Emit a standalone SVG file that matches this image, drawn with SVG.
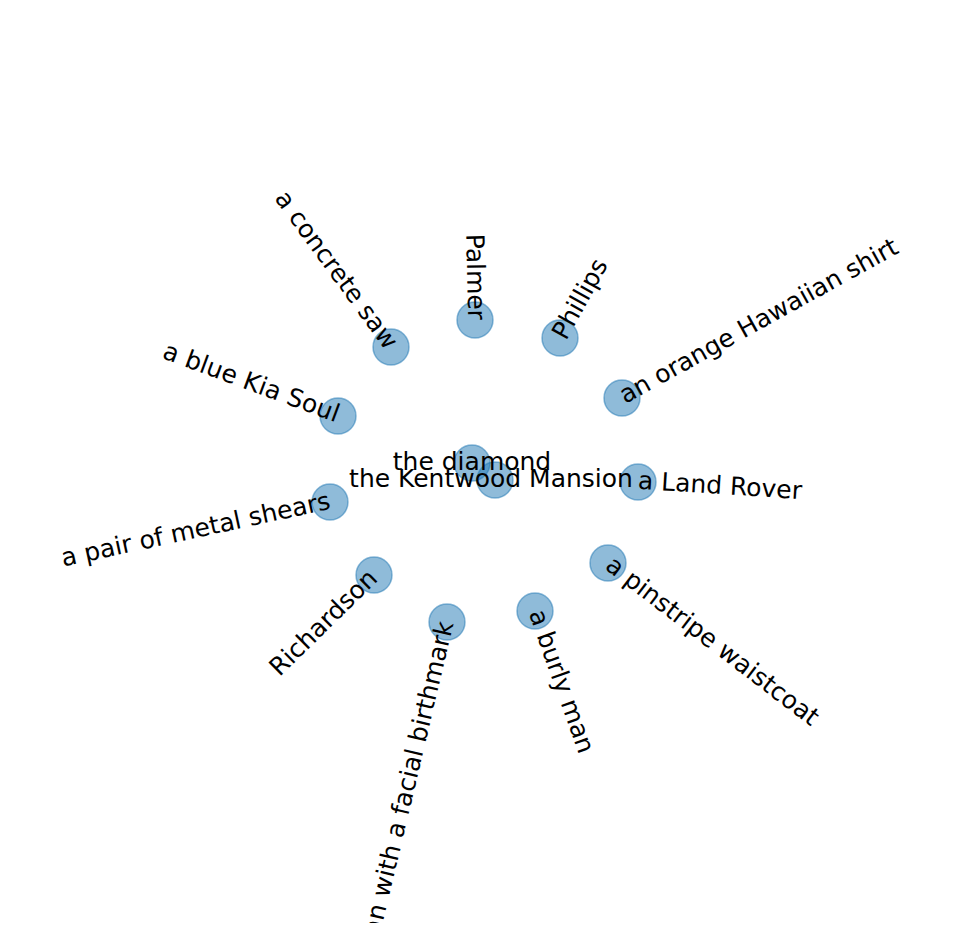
<svg xmlns="http://www.w3.org/2000/svg" width="967" height="942" viewBox="0 0 967 942">
<style>
.n{fill:#1f77b4;fill-opacity:.5;stroke:#1f77b4;stroke-opacity:.5;stroke-width:1.5}
.t{font-family:"DejaVu Sans",sans-serif;font-size:25px;fill:#000}
.s{text-anchor:start}.e{text-anchor:end}.m{text-anchor:middle}
</style>
<defs><clipPath id="fig"><rect x="0" y="0" width="967" height="923"/></clipPath></defs>
<rect width="967" height="942" fill="#fff"/>
<g id="edges"/>
<g id="n-concrete-saw"><circle class="n" cx="391" cy="347" r="18"/></g>
<g id="n-palmer"><circle class="n" cx="475" cy="320" r="18"/></g>
<g id="n-phillips"><circle class="n" cx="560" cy="338" r="18"/></g>
<g id="n-hawaiian-shirt"><circle class="n" cx="622" cy="398" r="18"/></g>
<g id="n-kia-soul"><circle class="n" cx="338" cy="416" r="18"/></g>
<g id="n-diamond"><circle class="n" cx="472" cy="463" r="18"/></g>
<g id="n-kentwood"><circle class="n" cx="495" cy="480" r="18"/></g>
<g id="n-land-rover"><circle class="n" cx="638" cy="482" r="18"/></g>
<g id="n-metal-shears"><circle class="n" cx="330" cy="502" r="18"/></g>
<g id="n-richardson"><circle class="n" cx="374" cy="575" r="18"/></g>
<g id="n-birthmark"><circle class="n" cx="447" cy="622" r="18"/></g>
<g id="n-burly-man"><circle class="n" cx="535" cy="611" r="18"/></g>
<g id="n-waistcoat"><circle class="n" cx="608" cy="563" r="18"/></g>
<g id="labels" class="t" clip-path="url(#fig)">
<text class="e" dy="0.27em" transform="translate(391,347) rotate(53.8)">a concrete saw</text>
<text class="e" dy="0.27em" transform="translate(475,320) rotate(88.7)">Palmer</text>
<text class="s" dy="0.27em" transform="translate(560,338) rotate(-61)">Phillips</text>
<text class="s" dy="0.27em" transform="translate(622,398) rotate(-28.9)">an orange Hawaiian shirt</text>
<text class="e" dy="0.27em" transform="translate(338,416) rotate(20.3)">a blue Kia Soul</text>
<text class="m" dy="0.27em" transform="translate(472,463)">the diamond</text>
<text class="m" dy="0.27em" transform="translate(491,480)">the Kentwood Mansion</text>
<text class="s" dy="0.27em" transform="translate(638,482) rotate(3.6)">a Land Rover</text>
<text class="e" dy="0.27em" transform="translate(330,502) rotate(-12.2)">a pair of metal shears</text>
<text class="e" dy="0.27em" transform="translate(374,575) rotate(-44.5)">Richardson</text>
<text class="e" dy="0.27em" transform="translate(447,622) rotate(-76.7)">a man with a facial birthmark</text>
<text class="s" dy="0.27em" transform="translate(535,611) rotate(70.4)">a burly man</text>
<text class="s" dy="0.27em" transform="translate(608,563) rotate(37.4)">a pinstripe waistcoat</text>
</g>
</svg>
